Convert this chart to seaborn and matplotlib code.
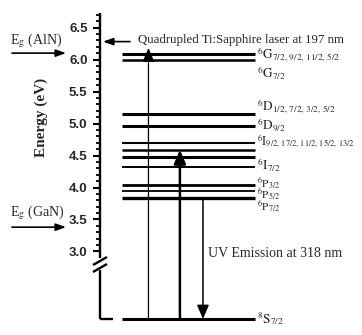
import numpy as np
import matplotlib
matplotlib.use("Agg")
import matplotlib.pyplot as plt
import seaborn as sns

# energy levels (eV) and their term symbols
level_energy = [6.09, 5.99, 5.15, 4.96, 4.69, 4.59, 4.47, 4.32, 4.04, 3.95, 3.84, 0.0]
label_energy = [6.07, 5.79, 5.26, 4.98, 4.72, 4.35, 4.06, 3.88, 3.70, 0.0]
label_text = [
    r"$^{6}\mathrm{G}_{7/2,\,9/2,\,11/2,\,5/2}$",
    r"$^{6}\mathrm{G}_{7/2}$",
    r"$^{6}\mathrm{D}_{1/2,\,7/2,\,3/2,\,5/2}$",
    r"$^{6}\mathrm{D}_{9/2}$",
    r"$^{6}\mathrm{I}_{9/2,\,17/2,\,11/2,\,15/2,\,13/2}$",
    r"$^{6}\mathrm{I}_{7/2}$",
    r"$^{6}\mathrm{P}_{3/2}$",
    r"$^{6}\mathrm{P}_{5/2}$",
    r"$^{6}\mathrm{P}_{7/2}$",
    r"$^{8}\mathrm{S}_{7/2}$",
]
tick_values = [3.0, 3.5, 4.0, 4.5, 5.0, 5.5, 6.0, 6.5]

eg_aln = 6.10
eg_gan = 3.38
laser_energy = 6.28
pump_top = 6.18
excite_top = 4.59
emission_top = 3.84
ground = 0.0

# styling
level_lw = [2.2, 1.8, 2.2, 2.2, 1.5, 1.8, 2.2, 1.4, 2.0, 1.3, 2.4, 2.2]
label_size = [9.5, 9.5, 9.5, 9.5, 8.6, 9.5, 8.2, 8.2, 8.2, 9.5]
x_level0, x_level1 = 0.084, 0.592
x_label = 0.600
x_pump, x_excite, x_emit = 0.185, 0.305, 0.393

sns.set_theme(style="white")
plt.rcParams["font.family"] = ["Liberation Serif", "DejaVu Serif"]
plt.rcParams["mathtext.fontset"] = "stix"

# broken energy axis: linear above the break, compressed below it
brk, low = 2.9, 1.945


def fwd(e):
    e = np.asarray(e, dtype=float)
    return np.where(e >= brk, e, low + e * (brk - low) / brk)


def inv(y):
    y = np.asarray(y, dtype=float)
    return np.where(y >= brk, y, (y - low) * brk / (brk - low))


W, H = 362, 335
fig = plt.figure(figsize=(W / 100, H / 100), dpi=100)
ax = fig.add_axes([100 / W, (H - 319) / H, 262 / W, 306 / H])
ax.set_yscale("function", functions=(fwd, inv))
ax.set_ylim(0.0, 6.727)
ax.set_xlim(0, 1)
sns.despine(ax=ax, left=True, bottom=True)
ax.set_xticks([])

ax.set_yticks(tick_values)
ax.set_yticklabels([f"{v:.1f}" for v in tick_values],
                   family="Liberation Sans", fontweight="bold", fontsize=9.5)
ax.set_yticks(np.arange(3.0, 6.71, 0.1), minor=True)
ax.tick_params(axis="y", which="major", direction="out", length=5, width=1.5,
               pad=4, left=True, color="black")
ax.tick_params(axis="y", which="minor", direction="out", length=3, width=1.3,
               left=True, color="black")
ax.set_ylabel("Energy (eV)", fontsize=11, fontweight="bold")
ax.yaxis.set_label_coords(-52 / 262, (319 - 117) / 306)

# hand-drawn broken left spine and bottom stub
tr = ax.transAxes
k = dict(color="black", lw=1.7, clip_on=False, transform=tr, solid_capstyle="butt")
ax.plot([0, 0], [1, (319 - 258) / 306], **k)
ax.plot([0, 0], [(319 - 270) / 306, 0], **k)
ax.plot([0, 13 / 262], [0, 0], **k)
for y0 in (265, 272):
    ax.plot([-7 / 262, 7 / 262], [(319 - y0) / 306, (319 - y0 + 8) / 306], **k)

# levels
for e, lw in zip(level_energy, level_lw):
    ax.hlines(e, x_level0, x_level1, color="black", lw=lw, clip_on=False)
for e, t, fs in zip(label_energy, label_text, label_size):
    ax.text(x_label, e, t, fontsize=fs, va="center", ha="left", clip_on=False)

# transitions
head = dict(arrowstyle="-|>,head_length=0.7,head_width=0.3", color="black",
            shrinkA=0, shrinkB=0)
ax.annotate("", xy=(x_pump, pump_top), xytext=(x_pump, ground),
            arrowprops=dict(head, lw=0.9), annotation_clip=False)
ax.annotate("", xy=(x_excite, excite_top), xytext=(x_excite, ground),
            arrowprops=dict(head, lw=1.8), annotation_clip=False)
ax.annotate("", xy=(x_emit, ground), xytext=(x_emit, emission_top),
            arrowprops=dict(head, lw=1.1), annotation_clip=False)
ax.text(x_emit + 0.02, 2.97, "UV Emission at 318 nm", fontsize=10,
        va="center", ha="left")

# laser line marker and text
small = dict(arrowstyle="-|>,head_length=0.5,head_width=0.18", color="black",
             lw=1.2, shrinkA=0, shrinkB=0)
ax.annotate("", xy=(3 / 262, laser_energy), xytext=(30 / 262, laser_energy),
            arrowprops=small, annotation_clip=False)
ax.text(38 / 262, laser_energy + 0.02, "Quadrupled Ti:Sapphire laser at 197 nm",
        fontsize=9.3, va="center", ha="left")

# band gap markers on the left
for eg, txt, ty in ((eg_aln, r"E$_{\rm g}$ (AlN)", eg_aln + 0.19),
                    (eg_gan, r"E$_{\rm g}$ (GaN)", eg_gan + 0.22)):
    ax.annotate("", xy=(66 / W, eg), xytext=(12 / W, eg),
                xycoords=("figure fraction", "data"),
                textcoords=("figure fraction", "data"),
                arrowprops=small, annotation_clip=False)
    ax.annotate(txt, xy=(10 / W, ty), xycoords=("figure fraction", "data"),
                fontsize=10, va="center", ha="left", annotation_clip=False)

fig.savefig("out.png", dpi=100)
